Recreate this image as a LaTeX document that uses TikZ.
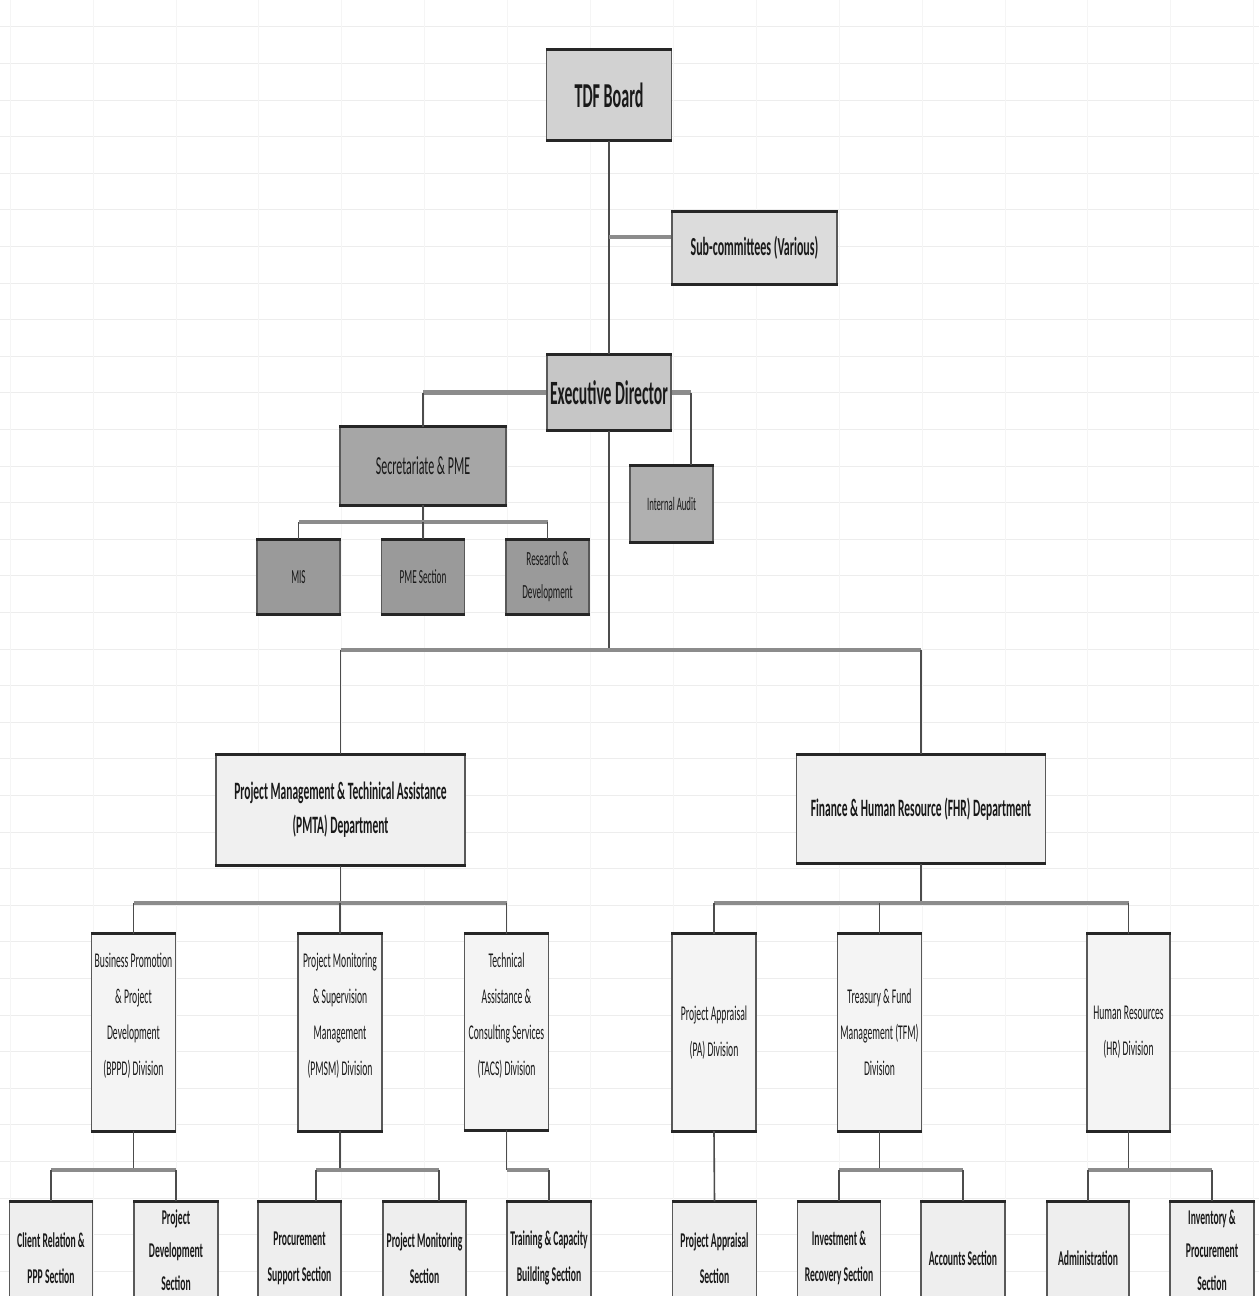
\documentclass[tikz,border=0pt]{standalone}
\usepackage{fontspec}
\setmainfont{Carlito}[FakeStretch=0.46]
\definecolor{cTDF}{HTML}{D2D2D2}
\definecolor{cSub}{HTML}{DCDCDC}
\definecolor{cED}{HTML}{C6C6C6}
\definecolor{cSec}{HTML}{A6A6A6}
\definecolor{cIA}{HTML}{B0B0B0}
\definecolor{cSmall}{HTML}{9A9A9A}
\definecolor{cDept}{HTML}{F0F0F0}
\definecolor{cDiv}{HTML}{F4F4F4}
\definecolor{cSecn}{HTML}{EEEEEE}
\begin{document}
\begin{tikzpicture}[x=1pt,y=-1pt,
  box/.style={draw=black!65, line width=1.2pt, inner sep=0pt, align=center, text=black!90},
  vline/.style={draw=black!70, line width=1.6pt},
  hline/.style={draw=black!45, line width=4.5pt},
  edgebar/.style={line width=3pt, draw=black!85},
  gridh/.style={draw=black!7, line width=0.6pt},
  gridv/.style={draw=black!4, line width=0.6pt},
  divfont/.style={font=\fontsize{21}{36}\selectfont},
  secfont/.style={font=\bfseries\fontsize{21}{36}\selectfont},
  smallfont/.style={font=\fontsize{20}{33}\selectfont}]
\useasboundingbox (0,0) rectangle (1259,1296);
\clip (0,0) rectangle (1259,1296);
\fill[white] (0,0) rectangle (1259,1296);
% faint spreadsheet grid
\foreach \k in {-9,...,26} \draw[gridh] (0,356+36.6*\k) -- (1259,356+36.6*\k);
\foreach \k in {0,...,15} \draw[gridv] (10+82.9*\k,0) -- (10+82.9*\k,1296);

% ---------- nodes ----------
\node[box, fill=cTDF, minimum width=125, minimum height=90, font=\bfseries\fontsize{35}{40}\selectfont] (tdf) at (609,95) {TDF Board};
\node[box, fill=cSub, minimum width=165, minimum height=72, font=\bfseries\fontsize{26}{30}\selectfont] (sub) at (754.5,248) {Sub-committees (Various)};
\node[box, fill=cED, minimum width=124, minimum height=75, font=\bfseries\fontsize{34}{38}\selectfont] (ed) at (609,392.5) {Executive Director};
\node[box, fill=cSec, minimum width=166, minimum height=77, font=\fontsize{26}{30}\selectfont] (sec) at (423,466) {Secretariate \& PME};
\node[box, fill=cIA, minimum width=83, minimum height=76, font=\fontsize{19}{24}\selectfont] (ia) at (671.5,504) {Internal Audit};
\node[box, fill=cSmall, minimum width=83, minimum height=74, smallfont] (mis) at (298.5,577) {MIS};
\node[box, fill=cSmall, minimum width=83, minimum height=74, smallfont] (pme) at (423,577) {PME Section};
\node[box, fill=cSmall, minimum width=83, minimum height=74, smallfont] (rd) at (547.5,577) {Research \&\\Development};

\node[box, fill=cDept, minimum width=249, minimum height=110, font=\bfseries\fontsize{25}{34}\selectfont] (pmta) at (340.5,810) {Project Management \& Techinical Assistance\\(PMTA) Department};
\node[box, fill=cDept, minimum width=249, minimum height=108, font=\bfseries\fontsize{25}{34}\selectfont] (fhr) at (921,809) {Finance \& Human Resource (FHR) Department};

\node[box, fill=cDiv, minimum width=84, minimum height=196, divfont] (bppd) at (133.5,1032.5) {Business Promotion\\\& Project\\Development\\(BPPD) Division\\\mbox{}};
\node[box, fill=cDiv, minimum width=84, minimum height=196, divfont] (pmsm) at (340,1032.5) {Project Monitoring\\\& Supervision\\Management\\(PMSM) Division\\\mbox{}};
\node[box, fill=cDiv, minimum width=84, minimum height=195, divfont] (tacs) at (506.5,1032) {Technical\\Assistance \&\\Consulting Services\\(TACS) Division\\\mbox{}};
\node[box, fill=cDiv, minimum width=84, minimum height=196, divfont] (pa) at (714,1032.5) {Project Appraisal\\(PA) Division};
\node[box, fill=cDiv, minimum width=84, minimum height=196, divfont] (tfm) at (879.5,1032.5) {Treasury \& Fund\\Management (TFM)\\Division};
\node[box, fill=cDiv, minimum width=83, minimum height=196, divfont] (hr) at (1128.5,1032.5) {Human Resources\\(HR) Division};

\node[box, fill=cSecn, minimum width=83, minimum height=112, secfont] (crp) at (51,1258) {Client Relation \&\\PPP Section};
\node[box, fill=cSecn, minimum width=84, minimum height=112] (pd) at (176,1258) {};
\node[secfont, align=center, inner sep=0pt, text=black!90, font=\bfseries\fontsize{21}{33}\selectfont] (pdT) at (176,1250) {Project\\Development\\Section};
\node[box, fill=cSecn, minimum width=83, minimum height=112, secfont] (ps) at (299.5,1258) {Procurement\\Support Section};
\node[box, fill=cSecn, minimum width=83, minimum height=112, secfont] (pms) at (424.5,1258) {Project Monitoring\\Section};
\node[box, fill=cSecn, minimum width=84, minimum height=112, secfont] (tcb) at (549,1258) {Training \& Capacity\\Building Section};
\node[box, fill=cSecn, minimum width=84, minimum height=112, secfont] (pas) at (714.5,1258) {Project Appraisal\\Section};
\node[box, fill=cSecn, minimum width=83, minimum height=112, secfont] (irs) at (839,1258) {Investment \&\\Recovery Section};
\node[box, fill=cSecn, minimum width=84, minimum height=112, secfont] (acs) at (963,1258) {Accounts Section};
\node[box, fill=cSecn, minimum width=82, minimum height=112, secfont] (adm) at (1088,1258) {Administration};
\node[box, fill=cSecn, minimum width=84, minimum height=112] (ipr) at (1212,1258) {};
\node[align=center, inner sep=0pt, text=black!90, font=\bfseries\fontsize{21}{33}\selectfont] (iprT) at (1212,1250) {Inventory \&\\Procurement\\Section};

% thick top and bottom borders
\foreach \n in {tdf,sub,ed,sec,ia,mis,pme,rd,pmta,fhr,bppd,pmsm,tacs,pa,tfm,hr,crp,pd,ps,pms,tcb,pas,irs,acs,adm,ipr}{
  \draw[edgebar] (\n.north west) -- (\n.north east);
  \draw[edgebar] (\n.south west) -- (\n.south east);
}

% ---------- connectors ----------
\coordinate (jsub) at (609,237);
\draw[vline] (tdf.south) -- (ed.north);
\draw[hline] (jsub) -- (jsub -| sub.west);

\coordinate (jia) at (691,392.5);
\draw[hline] (ed.west) -- (ed.west -| sec.north);
\draw[vline] (ed.west -| sec.north) -- (sec.north);
\draw[hline] (ed.east) -- (jia);
\draw[vline] (jia) -- (jia |- ia.north);

\coordinate (bsec) at (423,522);
\draw[vline] (sec.south) -- (bsec);
\draw[hline] (bsec -| mis.north) -- (bsec -| rd.north);
\foreach \n in {mis,pme,rd} \draw[vline] (bsec -| \n.north) -- (\n.north);

\coordinate (bed) at (609,650);
\draw[vline] (ed.south) -- (bed);
\draw[hline] (bed -| pmta.north) -- (bed -| fhr.north);
\foreach \n in {pmta,fhr} \draw[vline] (bed -| \n.north) -- (\n.north);

\coordinate (bpm) at (340.5,903);
\draw[vline] (pmta.south) -- (bpm);
\draw[hline] (bpm -| bppd.north) -- (bpm -| tacs.north);
\foreach \n in {bppd,pmsm,tacs} \draw[vline] (bpm -| \n.north) -- (\n.north);

\coordinate (bfh) at (921,903);
\draw[vline] (fhr.south) -- (bfh);
\draw[hline] (bfh -| pa.north) -- (bfh -| hr.north);
\foreach \n in {pa,tfm,hr} \draw[vline] (bfh -| \n.north) -- (\n.north);

% section level
\coordinate (b1) at (133.5,1170);
\draw[vline] (bppd.south) -- (b1);
\draw[hline] (b1 -| crp.north) -- (b1 -| pd.north);
\foreach \n in {crp,pd} \draw[vline] (b1 -| \n.north) -- (\n.north);

\coordinate (b2) at (340,1170);
\coordinate (b2l) at (316,1170);
\coordinate (b2r) at (439,1170);
\draw[vline] (pmsm.south) -- (b2);
\draw[hline] (b2l) -- (b2r);
\draw[vline] (b2l) -- (b2l |- ps.north);
\draw[vline] (b2r) -- (b2r |- pms.north);

\coordinate (b3) at (506.5,1170);
\draw[vline] (tacs.south) -- (b3);
\draw[hline] (b3) -- (b3 -| tcb.north);
\draw[vline] (b3 -| tcb.north) -- (tcb.north);

\draw[vline] (pa.south) -- (pas.north);

\coordinate (b5) at (879.5,1170);
\draw[vline] (tfm.south) -- (b5);
\draw[hline] (b5 -| irs.north) -- (b5 -| acs.north);
\foreach \n in {irs,acs} \draw[vline] (b5 -| \n.north) -- (\n.north);

\coordinate (b6) at (1128.5,1170);
\draw[vline] (hr.south) -- (b6);
\draw[hline] (b6 -| adm.north) -- (b6 -| ipr.north);
\foreach \n in {adm,ipr} \draw[vline] (b6 -| \n.north) -- (\n.north);
\end{tikzpicture}
\end{document}
